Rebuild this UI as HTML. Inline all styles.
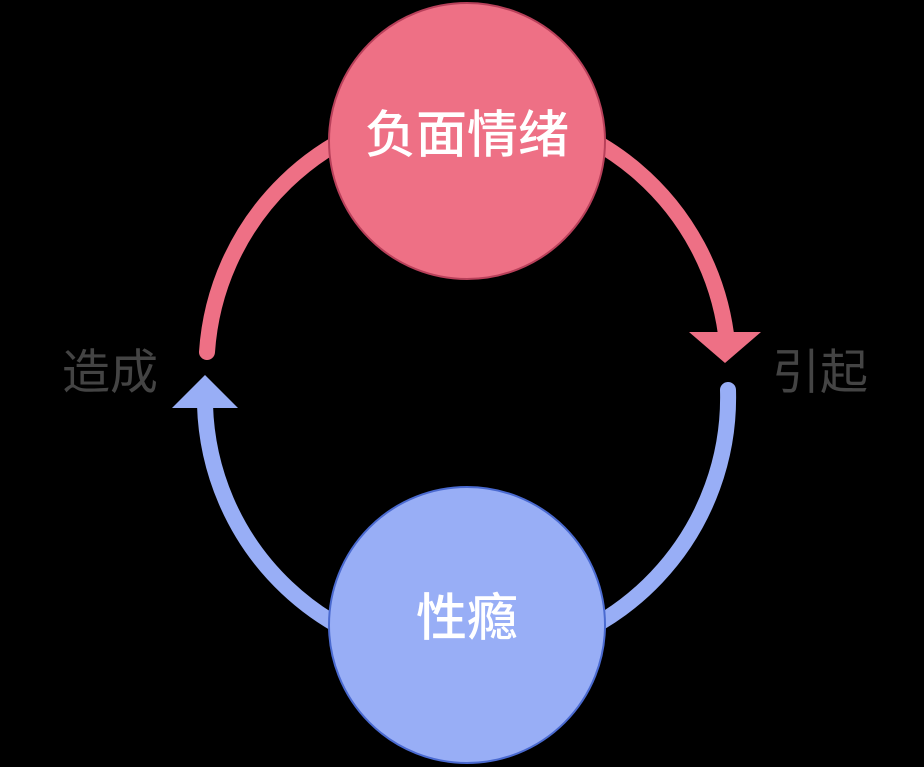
<!DOCTYPE html>
<html><head><meta charset="utf-8"><style>
html,body{margin:0;padding:0;background:#000;}
svg{display:block}
text{font-family:"Liberation Sans","Noto Sans CJK SC",sans-serif;}
</style></head><body>
<svg width="924" height="767" viewBox="0 0 924 767" xmlns="http://www.w3.org/2000/svg">
<rect width="924" height="767" fill="#000"/>
<path d="M207,352 A261,261 0 0 1 726,334" fill="none" stroke="#ee7085" stroke-width="16" stroke-linecap="round"/>
<polygon points="689,332 761,332 725,363" fill="#ee7085"/>
<path d="M728,390 A261,261 0 0 1 205,405" fill="none" stroke="#98aef6" stroke-width="16" stroke-linecap="round"/>
<polygon points="172,408 238,408 205,375" fill="#98aef6"/>
<circle cx="467" cy="141" r="138" fill="#ee7085" stroke="#b8405a" stroke-width="2"/>
<circle cx="467" cy="625" r="138" fill="#98aef6" stroke="#4a6ad0" stroke-width="2"/>
<text x="467" y="139" font-size="51" font-weight="500" fill="#fff" text-anchor="middle" dominant-baseline="middle">负面情绪</text>
<text x="467" y="622" font-size="51" font-weight="500" fill="#fff" text-anchor="middle" dominant-baseline="middle">性瘾</text>
<text x="110" y="376" font-size="48" fill="#444" text-anchor="middle" dominant-baseline="middle">造成</text>
<text x="820" y="376" font-size="48" fill="#444" text-anchor="middle" dominant-baseline="middle">引起</text>
</svg>
</body></html>
